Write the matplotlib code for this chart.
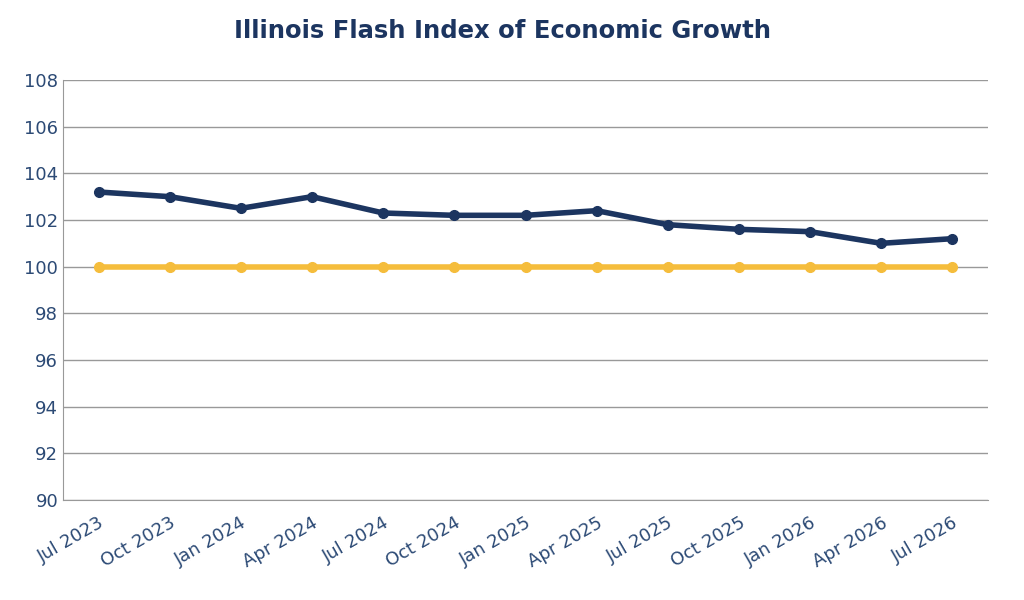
import matplotlib
matplotlib.use("Agg")
import matplotlib.pyplot as plt

labels = ["Jul 2023","Oct 2023","Jan 2024","Apr 2024","Jul 2024","Oct 2024","Jan 2025",
          "Apr 2025","Jul 2025","Oct 2025","Jan 2026","Apr 2026","Jul 2026"]
flash = [103.2,103.0,102.5,103.0,102.3,102.2,102.2,102.4,101.8,101.6,101.5,101.0,101.2]
baseline = [100]*13

navy = "#1c3560"
gold = "#f5bd3c"
fig = plt.figure(figsize=(10.24,6), dpi=100)
ax = fig.add_axes([63/1024, 100/600, 925/1024, 420/600])
x = list(range(len(labels)))
ax.plot(x, baseline, color=gold, lw=4, marker="o", ms=7, zorder=3)
ax.plot(x, flash, color=navy, lw=4, marker="o", ms=7, zorder=4)
ax.set_xlim(-0.5, 12.5)
ax.set_ylim(90, 108)
ax.set_yticks(range(90,109,2))
ax.set_xticks(x)
ax.set_xticklabels(labels, rotation=30, ha="right", rotation_mode="anchor")
for t in ax.get_xticklabels():
    t.set_x(t.get_position()[0])
ax.tick_params(axis="both", colors="#2c4a75", labelsize=13, length=0)
ax.tick_params(axis="x", pad=10)
ax.grid(axis="y", color="#999999", lw=1)
ax.set_axisbelow(True)
for s in ["top","right"]:
    ax.spines[s].set_visible(False)
for s in ["left","bottom"]:
    ax.spines[s].set_color("#999999")
fig.suptitle("Illinois Flash Index of Economic Growth", x=0.491, y=0.968,
             fontsize=17.5, fontweight="bold", color=navy)
fig.savefig("out.png", dpi=100)
